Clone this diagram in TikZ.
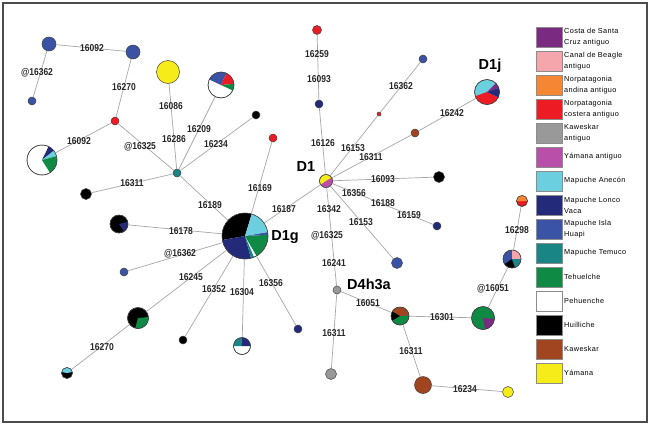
\documentclass[tikz,border=0pt]{standalone}
\usepackage{fontspec}
\setmainfont{Liberation Sans}
\newfontfamily\labfont[FakeStretch=0.85]{Liberation Sans}
\newfontfamily\legfont[LetterSpace=5]{Liberation Sans}
\definecolor{costa}{HTML}{7B2A82}
\definecolor{beagle}{HTML}{F4A6AC}
\definecolor{norand}{HTML}{F58634}
\definecolor{norcos}{HTML}{ED1C24}
\definecolor{kawant}{HTML}{999999}
\definecolor{yamant}{HTML}{B84FA8}
\definecolor{anecon}{HTML}{6CCFDF}
\definecolor{lonco}{HTML}{232A7A}
\definecolor{hblue}{HTML}{3A53A4}
\definecolor{temuco}{HTML}{1A8585}
\definecolor{tehu}{HTML}{0F8A45}
\definecolor{kaw}{HTML}{A0451F}
\definecolor{yam}{HTML}{F5EC1A}
\newcommand{\wdg}[5]{\fill[#5] (#1.center) -- ++(#3:#2) arc[start angle=#3,end angle=#4,radius=#2] -- cycle;}
\newcommand{\rim}[2]{\draw[rimline] (#1.center) circle[radius=#2];}
\tikzset{
  hap/.style={circle, draw=black!75, line width=0.5pt, inner sep=0pt, minimum size=#1},
  rimline/.style={draw=black!75, line width=0.5pt},
  edge/.style={draw=black!35, line width=0.7pt},
  mut/.style={font=\labfont\bfseries\fontsize{10}{10}\selectfont, inner sep=0pt, text=black!85},
  hg/.style={font=\bfseries\fontsize{14.5}{14.5}\selectfont, inner sep=0pt},
  legbox/.style={rectangle, draw=black!45, line width=0.6pt, minimum width=26pt, minimum height=20pt, inner sep=0pt},
  legtext/.style={anchor=west, align=left, inner sep=0pt, font=\legfont\fontsize{7.3}{11}\selectfont},
  frame/.style={draw=black!70, line width=1.3pt}
}
\begin{document}
\begin{tikzpicture}[x=1pt,y=1pt]
\useasboundingbox (0,0) rectangle (650,-426);
\fill[white] (0,0) rectangle (650,-426);
\draw[frame] (3,-3) rectangle (647,-422);

% haplotype nodes
\node[hap=14, fill=hblue] (A) at (49,-44) {};
\node[hap=14, fill=hblue] (B) at (133,-52) {};
\node[hap=8, fill=hblue] (C) at (32,-101) {};
\node[hap=23, fill=yam] (Y) at (168,-72) {};
\node[hap=26, fill=white] (P1) at (221,-85) {};
\node[hap=8, fill=norcos] (R1) at (115,-121) {};
\node[hap=30, fill=white] (P2) at (42,-160) {};
\node[hap=8, fill=temuco] (T) at (177,-173) {};
\node[hap=8, fill=black] (K1) at (256,-115) {};
\node[hap=11, fill=black] (K2) at (86,-194) {};
\node[hap=8, fill=norcos] (R2) at (273,-138) {};
\node[hap=46, fill=white] (G) at (245,-236) {};
\node[hap=18, fill=black] (P3) at (119,-224) {};
\node[hap=8, fill=hblue] (C2) at (124,-272) {};
\node[hap=21, fill=black] (P4) at (138,-318) {};
\node[hap=8, fill=black] (K3) at (183,-340) {};
\node[hap=17, fill=white] (P5) at (242,-346) {};
\node[hap=11, fill=black] (P6) at (67,-373) {};
\node[hap=8, fill=lonco] (N1) at (298,-329) {};
\node[hap=13, fill=yam] (D) at (326,-181) {};
\node[hap=8, fill=lonco] (N2) at (319,-104) {};
\node[hap=9, fill=norcos] (R3) at (317,-30) {};
\node[hap=4, fill=norcos] (R4) at (379,-114) {};
\node[hap=8, fill=hblue] (C3) at (423,-59) {};
\node[hap=8, fill=kaw] (W1) at (415,-133) {};
\node[hap=25, fill=anecon] (J) at (487,-92) {};
\node[hap=11, fill=black] (K4) at (439,-177) {};
\node[hap=8, fill=lonco] (N3) at (437,-226) {};
\node[hap=11, fill=hblue] (C4) at (397,-263) {};
\node[hap=8, fill=kawant] (H) at (337,-290) {};
\node[hap=11, fill=kawant] (H2) at (331,-374) {};
\node[hap=18, fill=tehu] (P7) at (400,-316) {};
\node[hap=17, fill=kaw] (W2) at (423,-385) {};
\node[hap=11, fill=yam] (Y2) at (508,-392) {};
\node[hap=23, fill=tehu] (P8) at (483,-318) {};
\node[hap=18, fill=hblue] (P9) at (512,-259) {};
\node[hap=11, fill=norcos] (P10) at (522,-201) {};

% pie slices
\wdg{P1}{13}{65}{155}{hblue}\wdg{P1}{13}{5}{65}{norcos}\wdg{P1}{13}{-25}{5}{tehu}\rim{P1}{13}
\wdg{P2}{15}{38}{64}{lonco}\wdg{P2}{15}{15}{38}{anecon}\wdg{P2}{15}{-58}{15}{tehu}\rim{P2}{15}
\wdg{G}{23}{73}{190}{black}\wdg{G}{23}{190}{285}{lonco}\wdg{G}{23}{285}{293}{temuco}
\wdg{G}{23}{300}{363}{tehu}\wdg{G}{23}{363}{370}{hblue}\wdg{G}{23}{370}{433}{anecon}\rim{G}{23}
\wdg{P3}{9}{-55}{15}{lonco}\rim{P3}{9}
\wdg{P4}{10.5}{-105}{5}{tehu}\rim{P4}{10.5}
\wdg{P5}{8.5}{95}{180}{temuco}\wdg{P5}{8.5}{0}{95}{lonco}\rim{P5}{8.5}
\wdg{P6}{5.5}{10}{170}{anecon}\rim{P6}{5.5}
\wdg{D}{6.5}{215}{390}{yamant}\rim{D}{6.5}
\wdg{J}{12.5}{200}{335}{norcos}\wdg{J}{12.5}{335}{380}{lonco}\wdg{J}{12.5}{380}{405}{costa}\rim{J}{12.5}
\wdg{P7}{9}{5}{150}{kaw}\wdg{P7}{9}{150}{210}{black}\rim{P7}{9}
\wdg{P8}{11.5}{-80}{-5}{costa}\rim{P8}{11.5}
\wdg{P9}{9}{0}{90}{beagle}\wdg{P9}{9}{215}{290}{black}\wdg{P9}{9}{290}{360}{temuco}\rim{P9}{9}
\wdg{P10}{5.5}{0}{180}{norand}\rim{P10}{5.5}

% connectors
\draw[edge] (A) -- (B);
\draw[edge] (A) -- (C);
\draw[edge] (B) -- (R1);
\draw[edge] (R1) -- (P2);
\draw[edge] (R1) -- (T);
\draw[edge] (Y) -- (T);
\draw[edge] (P1) -- (T);
\draw[edge] (K1) -- (T);
\draw[edge] (T) -- (K2);
\draw[edge] (T) -- (G);
\draw[edge] (R2) -- (G);
\draw[edge] (G) -- (D);
\draw[edge] (G) -- (P3);
\draw[edge] (G) -- (C2);
\draw[edge] (G) -- (P4);
\draw[edge] (P4) -- (P6);
\draw[edge] (G) -- (K3);
\draw[edge] (G) -- (P5);
\draw[edge] (G) -- (N1);
\draw[edge] (D) -- (N2);
\draw[edge] (N2) -- (R3);
\draw[edge] (D) -- (R4);
\draw[edge] (R4) -- (C3);
\draw[edge] (D) -- (W1);
\draw[edge] (W1) -- (J);
\draw[edge] (D) -- (K4);
\draw[edge] (D) -- (N3);
\draw[edge] (D) -- (C4);
\draw[edge] (D) -- (H);
\draw[edge] (H) -- (H2);
\draw[edge] (H) -- (P7);
\draw[edge] (P7) -- (P8);
\draw[edge] (P8) -- (P9);
\draw[edge] (P9) -- (P10);
\draw[edge] (P7) -- (W2);
\draw[edge] (W2) -- (Y2);

% mutation labels
\node[mut] (m1) at (92,-48) {16092};
\node[mut] (m2) at (37,-73) {@16362};
\node[mut] (m3) at (124,-87) {16270};
\node[mut] (m4) at (79,-141) {16092};
\node[mut] (m5) at (140,-147) {@16325};
\node[mut] (m6) at (171,-106) {16086};
\node[mut] (m7) at (174,-139) {16286};
\node[mut] (m8) at (199,-129) {16209};
\node[mut] (m9) at (216,-144) {16234};
\node[mut] (m10) at (132,-183) {16311};
\node[mut] (m11) at (210,-205) {16189};
\node[mut] (m12) at (260,-188) {16169};
\node[mut] (m13) at (284,-209) {16187};
\node[mut] (m14) at (181,-231) {16178};
\node[mut] (m15) at (180,-254) {@16362};
\node[mut] (m16) at (191,-277) {16245};
\node[mut] (m17) at (214,-289) {16352};
\node[mut] (m18) at (242,-292) {16304};
\node[mut] (m19) at (271,-283) {16356};
\node[mut] (m20) at (102,-347) {16270};
\node[mut] (m21) at (317,-54) {16259};
\node[mut] (m22) at (319,-79) {16093};
\node[mut] (m23) at (323,-143) {16126};
\node[mut] (m24) at (353,-148) {16153};
\node[mut] (m25) at (401,-86) {16362};
\node[mut] (m26) at (452,-113) {16242};
\node[mut] (m27) at (371,-157) {16311};
\node[mut] (m28) at (383,-179) {16093};
\node[mut] (m29) at (354,-193) {16356};
\node[mut] (m30) at (383,-203) {16188};
\node[mut] (m31) at (409,-215) {16159};
\node[mut] (m32) at (329,-209) {16342};
\node[mut] (m33) at (361,-222) {16153};
\node[mut] (m34) at (327,-236) {@16325};
\node[mut] (m35) at (334,-263) {16241};
\node[mut] (m36) at (368,-303) {16051};
\node[mut] (m37) at (442,-317) {16301};
\node[mut] (m38) at (493,-289) {@16051};
\node[mut] (m39) at (517,-230) {16298};
\node[mut] (m40) at (334,-333) {16311};
\node[mut] (m41) at (411,-351) {16311};
\node[mut] (m42) at (465,-389) {16234};

% haplogroup labels
\node[hg] (hD1j) at (490,-66) {D1j};
\node[hg] (hD1) at (306,-167) {D1};
\node[hg] (hD1g) at (285,-237) {D1g};
\node[hg] (hD4) at (369,-284) {D4h3a};

% legend
\foreach \c/\t [count=\i from 0] in {
  costa/{Costa de Santa\\Cruz antiguo},
  beagle/{Canal de Beagle\\antiguo},
  norand/{Norpatagonia\\andina antiguo},
  norcos/{Norpatagonia\\costera antiguo},
  kawant/{Kaweskar\\antiguo},
  yamant/{Yámana antiguo},
  anecon/{Mapuche Anecón},
  lonco/{Mapuche Lonco\\Vaca},
  hblue/{Mapuche Isla\\Huapi},
  temuco/{Mapuche Temuco},
  tehu/{Tehuelche},
  white/{Pehuenche},
  black/{Huilliche},
  kaw/{Kaweskar},
  yam/{Yámana}}{
  \node[legbox, fill=\c] (leg\i) at (549,{-37-24*\i}) {};
  \node[legtext] (legt\i) at (564,{-37-24*\i}) {\t};
}
\end{tikzpicture}
\end{document}
